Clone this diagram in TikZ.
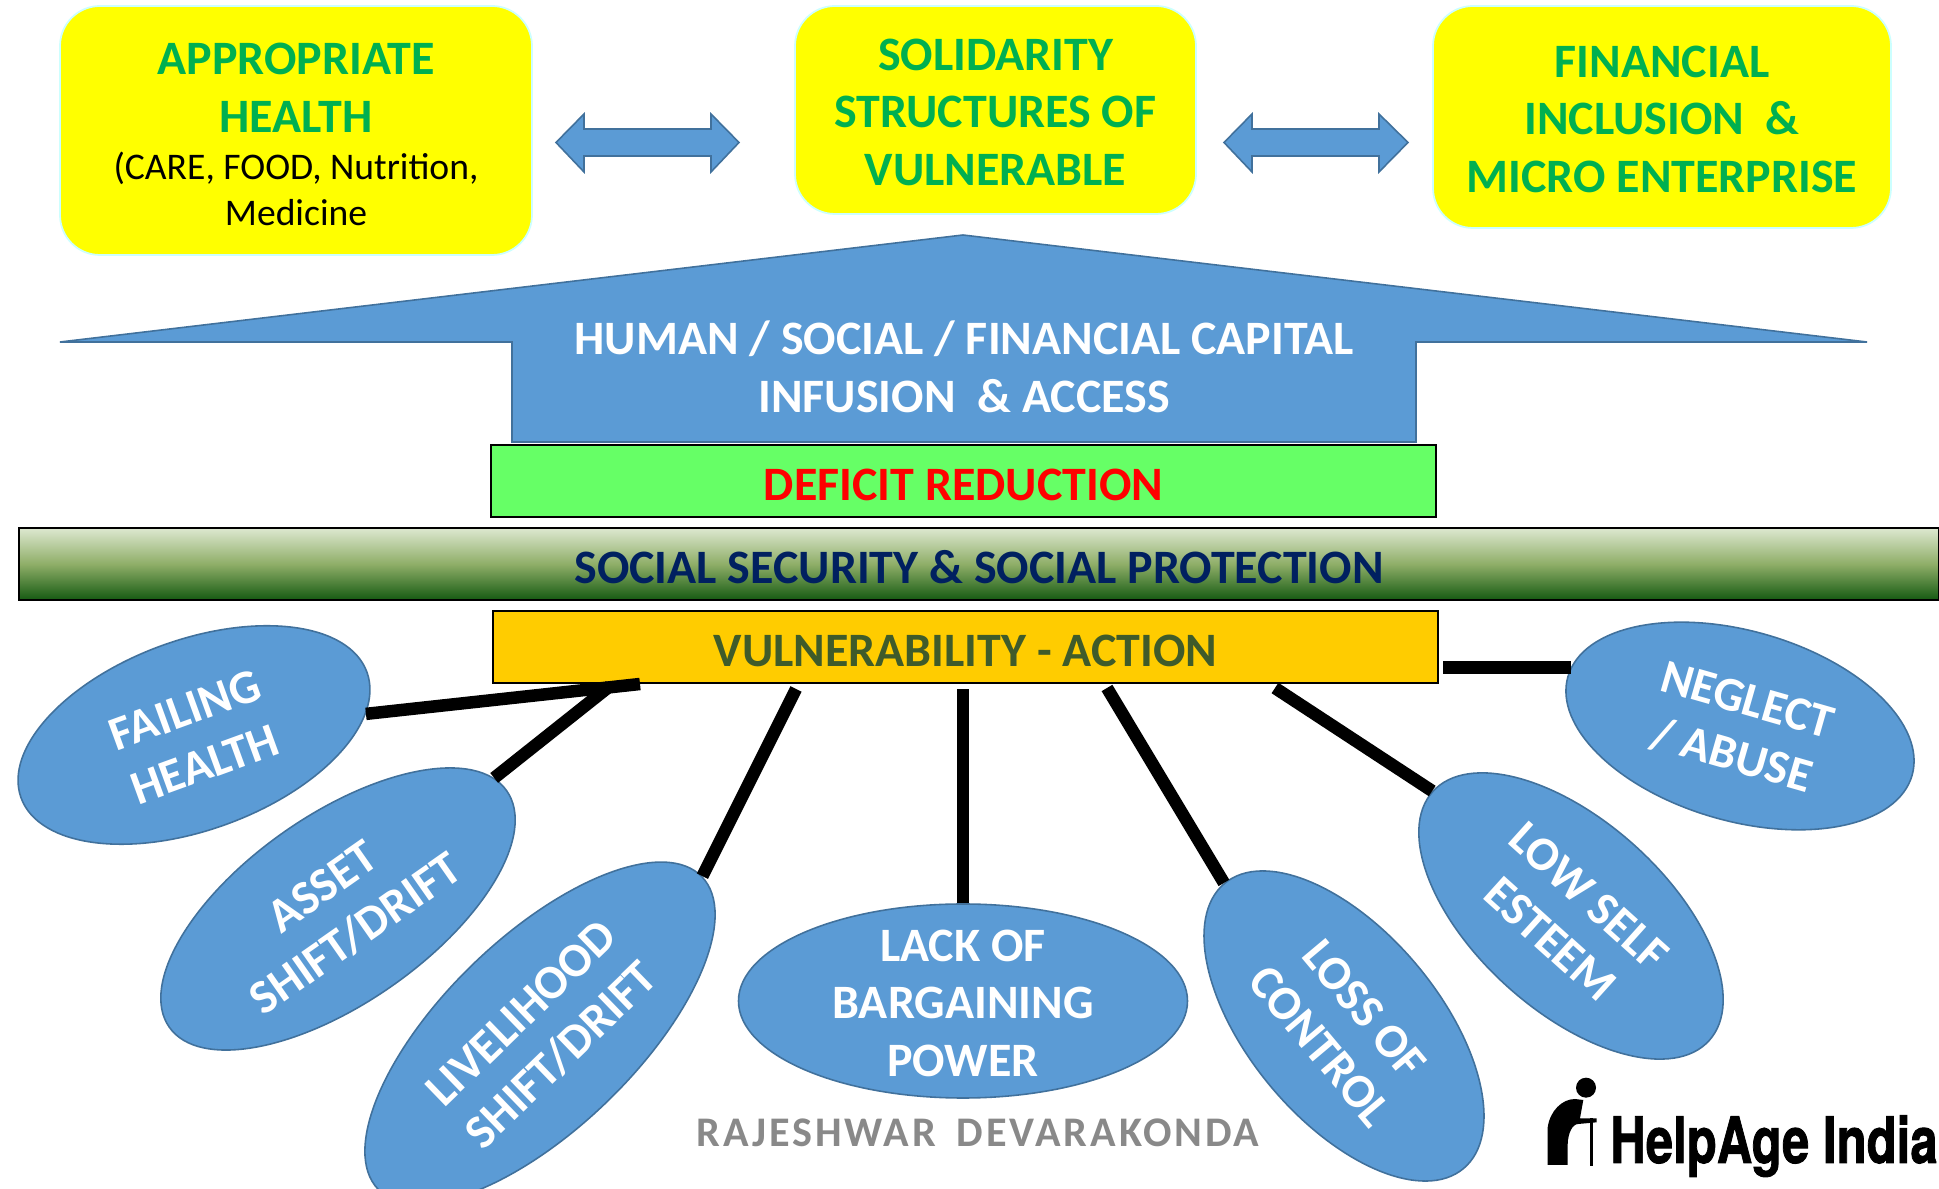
\documentclass[tikz,border=0pt]{standalone}
\usepackage{fontspec}
\setmainfont{Carlito}
\newfontfamily\spacedfont[LetterSpace=7]{Carlito}
\newfontfamily\logofont[FakeBold=1.5]{TeX Gyre Heros}
\usetikzlibrary{positioning, shapes.geometric}
\definecolor{shapeblue}{HTML}{5B9BD5}
\definecolor{edgeblue}{HTML}{41719C}
\definecolor{paleedge}{HTML}{CCFFFF}
\definecolor{boxyellow}{RGB}{255,255,0}
\definecolor{boxgreen}{HTML}{00B050}
\definecolor{deficitgreen}{HTML}{66FF66}
\definecolor{bandtop}{HTML}{DDE8D0}
\definecolor{bandmid}{HTML}{8FAE68}
\definecolor{bandlow}{HTML}{155A12}
\definecolor{bandnavy}{HTML}{002060}
\definecolor{actionyellow}{HTML}{FFCC00}
\definecolor{actionolive}{HTML}{3F5B2A}
\definecolor{namegray}{HTML}{898989}
\newcommand{\headfont}{\fontsize{13.65}{16.4}\selectfont\bfseries}
\newcommand{\notefont}{\fontsize{10.7}{12.8}\selectfont\mdseries\color{black}}
\newcommand{\dropline}{\rule{0pt}{0.36cm}}
\tikzset{
    topbox/.style={draw=paleedge, line width=0.5pt, fill=boxyellow, rounded corners=0.4cm, text=boxgreen, align=center, font=\headfont, inner sep=0pt},
    blueshape/.style={draw=edgeblue, line width=0.45pt, fill=shapeblue},
    barbox/.style={draw=black, line width=0.45pt, minimum height=0.72cm, text height=0.384cm, text depth=0pt, inner sep=0pt, font=\headfont},
    causeblob/.style={ellipse, draw=edgeblue, line width=0.45pt, fill=shapeblue, text=white, align=center, font=\headfont, inner sep=0pt},
    linkline/.style={black, line width=0.125cm}
}
\begin{document}
\begin{tikzpicture}
    \useasboundingbox (0,0) rectangle (19.39,11.89);
    \clip (0,0) rectangle (19.39,11.89);

    % top row
    \node[topbox, minimum width=4.72cm, minimum height=2.49cm] (healthbox) at (2.96,10.585) {\rule{0pt}{0.396cm}APPROPRIATE\\HEALTH\\[-3.1pt]{\notefont(CARE, FOOD, Nutrition,}\\[-3.3pt]{\notefont Medicine}};
    \node[topbox, minimum width=4.01cm, minimum height=2.08cm] (solidbox) at (9.955,10.79) {\dropline SOLIDARITY\\STRUCTURES OF\\VULNERABLE};
    \node[topbox, minimum width=4.58cm, minimum height=2.22cm] (financebox) at (16.62,10.72) {\dropline FINANCIAL\\INCLUSION\ \ \&\\MICRO ENTERPRISE};

    \draw[blueshape] (5.56,10.465) -- (5.84,10.75) -- (5.84,10.60) -- (7.11,10.60) -- (7.11,10.75) -- (7.39,10.465) -- (7.11,10.17) -- (7.11,10.33) -- (5.84,10.33) -- (5.84,10.17) -- cycle;
    \draw[blueshape] (12.24,10.465) -- (12.52,10.75) -- (12.52,10.60) -- (13.79,10.60) -- (13.79,10.75) -- (14.08,10.465) -- (13.79,10.17) -- (13.79,10.33) -- (12.52,10.33) -- (12.52,10.17) -- cycle;

    % big arrow
    \draw[blueshape] (9.63,9.54) -- (18.67,8.47) -- (14.16,8.47) -- (14.16,7.47) -- (5.12,7.47) -- (5.12,8.47) -- (0.60,8.47) -- cycle;
    \node[text=white, align=center, font=\headfont, inner sep=0pt] (capital) at (9.64,8.22) {HUMAN / SOCIAL / FINANCIAL CAPITAL\\INFUSION\ \ \& ACCESS};

    % bars
    \node[barbox, fill=deficitgreen, text=red, minimum width=9.45cm] (deficit) at (9.635,7.08) {DEFICIT REDUCTION};
    \node[barbox, top color=bandtop, bottom color=bandlow, middle color=bandmid, text=bandnavy, minimum width=19.2cm] (security) at (9.79,6.25) {SOCIAL SECURITY \& SOCIAL PROTECTION};
    \node[barbox, fill=actionyellow, text=actionolive, minimum width=9.45cm] (action) at (9.655,5.42) {VULNERABILITY - ACTION};

    % causes
    \node[causeblob, rotate=20, minimum width=3.68cm, minimum height=1.90cm] (failing) at (1.94,4.54) {\dropline FAILING\\HEALTH};
    \node[causeblob, rotate=35, minimum width=4.12cm, minimum height=1.88cm] (asset) at (3.38,2.80) {\dropline ASSET\\SHIFT/DRIFT};
    \node[causeblob, rotate=44, minimum width=4.50cm, minimum height=1.92cm] (livelihood) at (5.40,1.56) {\dropline LIVELIHOOD\\SHIFT/DRIFT};
    \node[causeblob, minimum width=4.49cm, minimum height=1.94cm] (bargaining) at (9.63,1.88) {};
    \node[text=white, align=center, font=\headfont, inner sep=0pt] (bargaininglabel) at (bargaining.center) {\dropline LACK OF\\BARGAINING\\POWER};
    \node[causeblob, rotate=-50, minimum width=3.72cm, minimum height=1.90cm] (control) at (13.44,1.63) {\dropline LOSS OF\\CONTROL};
    \node[causeblob, rotate=-42, minimum width=3.72cm, minimum height=1.90cm] (esteem) at (15.71,2.73) {\dropline LOW SELF\\ESTEEM};
    \node[causeblob, rotate=-16, minimum width=3.58cm, minimum height=1.90cm] (neglect) at (17.40,4.63) {\dropline NEGLECT\\/ ABUSE};

    % links, free ends just under the action bar
    \coordinate (failingend) at (6.40,5.05);
    \coordinate (assetend) at (6.10,5.03);
    \coordinate (livelihoodend) at (7.96,5.00);
    \coordinate (bargainingend) at (9.63,5.00);
    \coordinate (controlend) at (11.07,5.01);
    \coordinate (esteemend) at (12.75,5.01);
    \coordinate (neglectend) at (14.43,5.20);
    \draw[linkline] (failing.-13) -- (failingend);
    \draw[linkline] (asset.5) -- (assetend);
    \draw[linkline] (livelihood.east) -- (livelihoodend);
    \draw[linkline] (bargaining.north) -- (bargainingend);
    \draw[linkline] (control.west) -- (controlend);
    \draw[linkline] (esteem.west) -- (esteemend);
    \draw[linkline] (neglect.177.5) -- (neglectend |- neglect.177.5);

    \node[anchor=base, text=namegray, font=\fontsize{12}{14}\spacedfont\bfseries, inner sep=0pt] (author) at (9.78,0.42) {RAJESHWAR\hspace{0.08cm} DEVARAKONDA};

    % logo
    \fill[black] (15.86,1.013) circle (0.1cm);
    \fill[black] (15.477,0.24) -- (15.477,0.617) .. controls (15.50,0.78) and (15.62,0.90) .. (15.75,0.90) -- (15.833,0.89) -- (15.80,0.707) -- (15.967,0.707) -- (15.967,0.667) -- (15.783,0.65) .. controls (15.72,0.65) and (15.68,0.55) .. (15.677,0.45) -- (15.677,0.24) -- cycle;
    \draw[black, line width=0.027cm] (15.917,0.707) -- (15.917,0.23);
    \node[anchor=base, xscale=0.768, font=\fontsize{18.2}{20}\logofont\bfseries, inner sep=0pt] (helpage) at (17.74,0.26) {HelpAge India};
\end{tikzpicture}
\end{document}
